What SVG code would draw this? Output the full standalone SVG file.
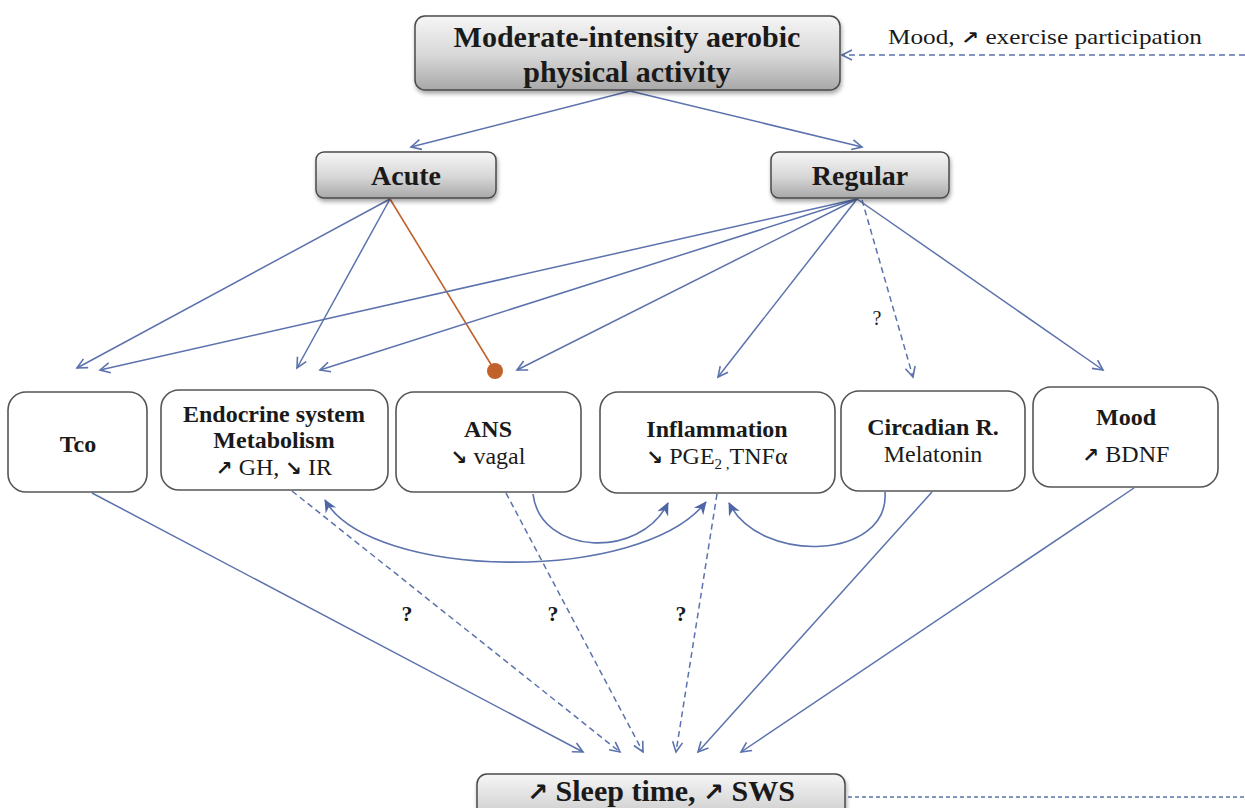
<svg xmlns="http://www.w3.org/2000/svg" width="1245" height="808" viewBox="0 0 1245 808">
<style>
.t{font-family:"Liberation Serif","DejaVu Serif",serif;fill:#1a1a1a;text-anchor:middle}
.ts{font-family:"Liberation Serif","DejaVu Serif",serif;fill:#1a1a1a;text-anchor:start}
.big{font-size:30px;font-weight:bold}
.mid{font-size:28px;font-weight:bold}
.nb{font-size:24px;font-weight:bold}
.nr{font-size:24px}
.sm{font-size:21px}
.q{font-size:22px;font-weight:bold}
.ar{font-family:"DejaVu Sans",sans-serif;font-weight:bold}
.gbox{fill:url(#g);stroke:#4a4a4a;stroke-width:1.5;filter:url(#sh)}
.wbox{fill:#fff;stroke:#555;stroke-width:1.6}
.c{fill:none;stroke:#5b72ad;stroke-width:1.5;marker-end:url(#ah)}
.d{stroke-dasharray:6 4}
.cv{fill:none;stroke:#5b72ad;stroke-width:1.6}
</style>
<defs>
<linearGradient id="g" x1="0" y1="0" x2="0" y2="1">
<stop offset="0" stop-color="#f6f6f6"/>
<stop offset="0.55" stop-color="#d6d6d6"/>
<stop offset="1" stop-color="#a8a8a8"/>
</linearGradient>
<filter id="sh" x="-10%" y="-20%" width="120%" height="150%">
<feDropShadow dx="1" dy="3" stdDeviation="2" flood-color="#000" flood-opacity="0.35"/>
</filter>
<marker id="ah" markerUnits="userSpaceOnUse" markerWidth="14" markerHeight="14" refX="12" refY="7" orient="auto">
<path d="M2,2 L12,7 L2,12" fill="none" stroke="#5b72ad" stroke-width="1.6" stroke-dasharray="none"/>
</marker>
<marker id="af" markerUnits="userSpaceOnUse" markerWidth="16" markerHeight="14" refX="13" refY="7" orient="auto-start-reverse">
<path d="M1,1 L14,7 L1,13 L5,7 Z" fill="#4f66a6" stroke="none"/>
</marker>
</defs>

<g id="connectors">
<line class="c" x1="630" y1="91" x2="411" y2="147"/>
<line class="c" x1="630" y1="91" x2="862" y2="147"/>
<line class="c d" x1="1245" y1="55" x2="842" y2="55"/>
<line class="c" x1="390" y1="199" x2="77" y2="368"/>
<line class="c" x1="390" y1="199" x2="297" y2="368"/>
<line x1="390" y1="199" x2="495" y2="371" stroke="#c0622a" stroke-width="1.6"/>
<circle cx="495" cy="371" r="8" fill="#c0622a"/>
<line class="c" x1="857" y1="199" x2="100" y2="370"/>
<line class="c" x1="857" y1="199" x2="320" y2="370"/>
<line class="c" x1="857" y1="199" x2="517" y2="370"/>
<line class="c" x1="857" y1="199" x2="718" y2="377"/>
<line class="c d" x1="862" y1="200" x2="913" y2="377"/>
<line class="c" x1="857" y1="199" x2="1103" y2="370"/>
<text class="t" x="877" y="325" font-size="20">?</text>
<line class="c" x1="92" y1="493" x2="583" y2="752"/>
<line class="c d" x1="292" y1="491" x2="620" y2="752"/>
<line class="c d" x1="506" y1="493" x2="643" y2="752"/>
<line class="c d" x1="717" y1="494" x2="676" y2="752"/>
<line class="c" x1="932" y1="492" x2="698" y2="752"/>
<line class="c" x1="1134" y1="488" x2="741" y2="752"/>
<line class="cv" x1="848" y1="797" x2="1245" y2="797" stroke-dasharray="4 3"/>
<path class="cv" d="M533,494 C540,555 640,560 668,503" marker-end="url(#af)"/>
<path class="cv" d="M325,500 C370,580 640,585 706,502" marker-start="url(#af)" marker-end="url(#af)"/>
<path class="cv" d="M885,492 C890,560 760,565 729,503" marker-end="url(#af)"/>
<text class="t q" x="407" y="621">?</text>
<text class="t q" x="553" y="621">?</text>
<text class="t q" x="681" y="621">?</text>
</g>

<g id="n-top">
<rect class="gbox" x="415" y="16" width="425" height="74" rx="10"/>
<text class="t big" x="627" y="47">Moderate-intensity aerobic</text>
<text class="t big" x="627" y="82">physical activity</text>
</g>
<g id="n-feedback-label">
<text class="ts sm" x="888" y="44" textLength="314" lengthAdjust="spacingAndGlyphs">Mood, <tspan class="ar" font-size="18">↗</tspan> exercise participation</text>
</g>
<g id="n-acute">
<rect class="gbox" x="316" y="152" width="180" height="46" rx="8"/>
<text class="t mid" x="406" y="185">Acute</text>
</g>
<g id="n-regular">
<rect class="gbox" x="771" y="152" width="178" height="46" rx="8"/>
<text class="t mid" x="860" y="185">Regular</text>
</g>
<g id="n-tco">
<rect class="wbox" x="8" y="392" width="139" height="100" rx="18"/>
<text class="t nb" x="78" y="452">Tco</text>
</g>
<g id="n-endocrine">
<rect class="wbox" x="161" y="390" width="227" height="100" rx="18"/>
<text class="t nb" x="274" y="422">Endocrine system</text>
<text class="t nb" x="274" y="448">Metabolism</text>
<text class="t nr" x="274" y="475"><tspan class="ar" font-size="20">↗</tspan> GH, <tspan class="ar" font-size="20">↘</tspan> IR</text>
</g>
<g id="n-ans">
<rect class="wbox" x="396" y="392" width="185" height="100" rx="18"/>
<text class="t nb" x="488" y="437">ANS</text>
<text class="t nr" x="488" y="464"><tspan class="ar" font-size="20">↘</tspan> vagal</text>
</g>
<g id="n-inflammation">
<rect class="wbox" x="600" y="392" width="235" height="101" rx="18"/>
<text class="t nb" x="717" y="437">Inflammation</text>
<text class="t nr" x="717" y="464"><tspan class="ar" font-size="20">↘</tspan> PGE<tspan font-size="15" dy="5">2 ,</tspan><tspan dy="-5">TNFα</tspan></text>
</g>
<g id="n-circadian">
<rect class="wbox" x="841" y="391" width="184" height="100" rx="18"/>
<text class="t nb" x="933" y="435">Circadian R.</text>
<text class="t nr" x="933" y="462">Melatonin</text>
</g>
<g id="n-mood">
<rect class="wbox" x="1033" y="387" width="185" height="100" rx="18"/>
<text class="t nb" x="1126" y="425">Mood</text>
<text class="t nr" x="1126" y="462"><tspan class="ar" font-size="20">↗</tspan> BDNF</text>
</g>
<g id="n-sleep">
<rect class="gbox" x="477" y="774" width="368" height="60" rx="10"/>
<text class="t big" x="661" y="801" font-size="28"><tspan class="ar" font-size="25">↗</tspan> Sleep time, <tspan class="ar" font-size="25">↗</tspan> SWS</text>
</g>
</svg>
